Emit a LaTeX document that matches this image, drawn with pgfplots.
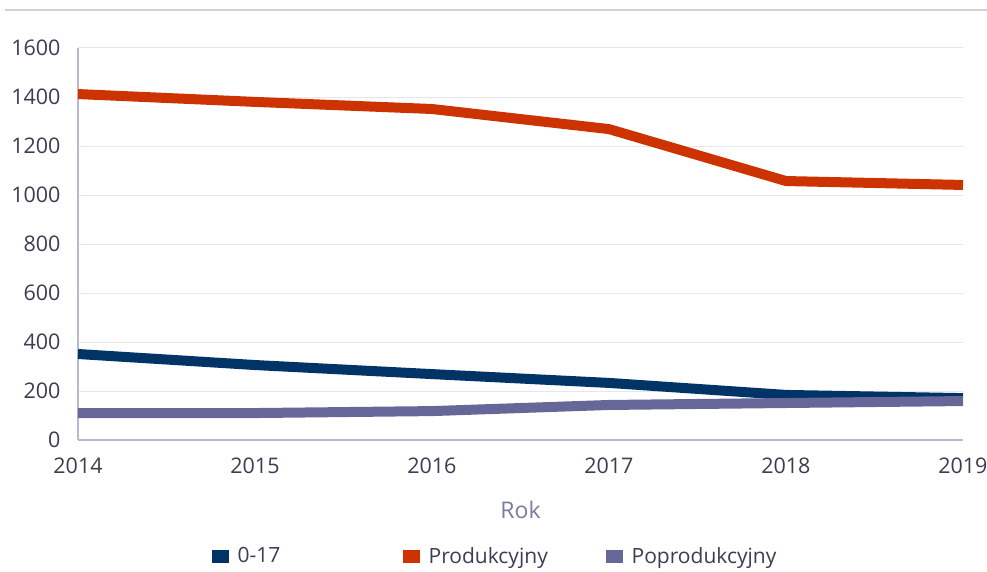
\documentclass[border=0pt]{standalone}
\usepackage{fontspec}
\setmainfont{Open Sans}
\usepackage{pgfplots}
\pgfplotsset{compat=1.18}
\definecolor{cBlue}{HTML}{003366}
\definecolor{cRed}{HTML}{CC3300}
\definecolor{cPurple}{HTML}{666699}
\definecolor{cText}{HTML}{3D3D52}
\definecolor{cAxis}{HTML}{B8B8D0}
\definecolor{cGrid}{HTML}{E6E6EE}
\definecolor{cRok}{HTML}{7A7AA6}
\begin{document}
\begin{tikzpicture}
\path[use as bounding box] (-78pt,-131pt) rectangle (909pt,440pt);
\draw[color=cGrid!80!gray, line width=2pt] (-73pt,430pt) -- (909pt,430pt);
\begin{axis}[
  scale only axis, width=885pt, height=392pt,
  xmin=2014, xmax=2019, ymin=0, ymax=1600,
  xtick={2014,...,2019}, ytick={0,200,...,1600},
  /pgf/number format/set thousands separator={},
  /pgf/number format/assume math mode=true,
  major tick length=0pt,
  axis x line*=bottom, axis y line*=left,
  axis line style={color=cAxis, line width=1.2pt},
  ymajorgrids, grid style={color=cGrid, line width=1pt},
  tick label style={font=\fontsize{21.5}{24}\selectfont, text=cText},
  yticklabel style={xshift=-14pt},
  xticklabel style={yshift=-14pt},
  xlabel={Rok}, xlabel style={font=\fontsize{23}{26}\selectfont, text=cRok, yshift=-21pt},
  legend columns=3,
  legend style={at={(0.144,-0.296)}, anchor=west, draw=none, fill=none, inner sep=0pt,
    font=\fontsize{21}{24}\selectfont, text=cText,
    /tikz/every even column/.append style={column sep=0pt}},
  legend image code/.code={\draw[#1, line width=13pt, line cap=butt] (0pt,0pt) -- (17pt,0pt);},
  every axis plot/.append style={line width=10pt, line join=round},
]
\addplot[color=cBlue] coordinates {(2014,351) (2015,306) (2016,269) (2017,233) (2018,184) (2019,171)};
\addlegendentry{\makebox[157pt][l]{0-17}}
\addplot[color=cRed] coordinates {(2014,1412) (2015,1380) (2016,1351) (2017,1269) (2018,1057) (2019,1041)};
\addlegendentry{\makebox[169pt][l]{Produkcyjny}}
\addplot[color=cPurple] coordinates {(2014,110) (2015,110) (2016,118) (2017,143) (2018,151) (2019,159)};
\addlegendentry{Poprodukcyjny}
\end{axis}
\end{tikzpicture}
\end{document}
